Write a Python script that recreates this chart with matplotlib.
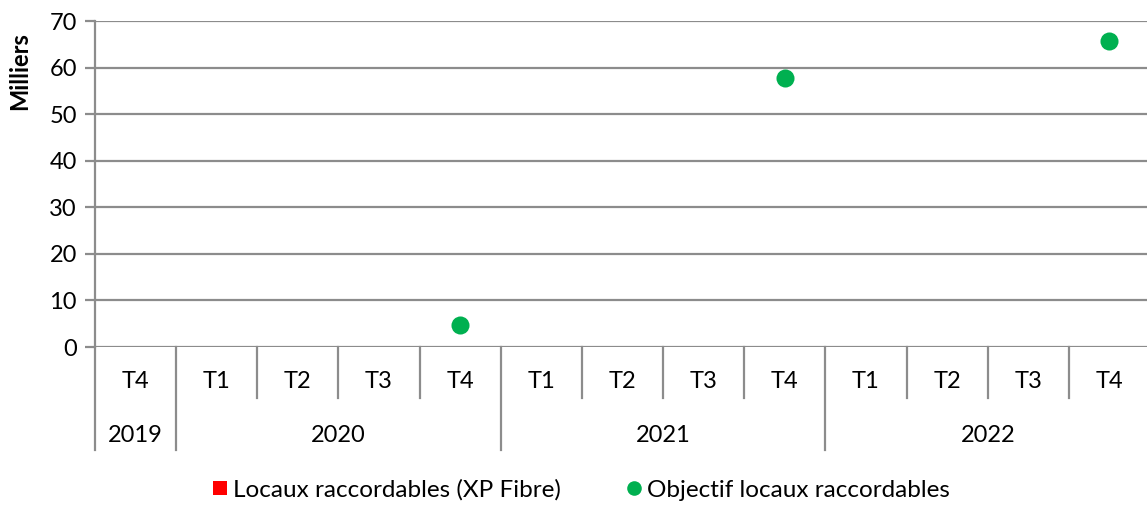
import numpy as np
import matplotlib.pyplot as plt
import matplotlib.transforms as mtransforms

plt.rcParams['font.family'] = ['Lato', 'DejaVu Sans']

quarters = ["T4", "T1", "T2", "T3", "T4", "T1", "T2", "T3", "T4", "T1", "T2", "T3", "T4"]
years = ["2019", "2020", "2021", "2022"]
year_spans = [(0, 0), (1, 4), (5, 8), (9, 12)]  # first/last quarter index for each year
locaux_xp = [np.nan] * 13
objectif = [np.nan, np.nan, np.nan, np.nan, 4.8, np.nan, np.nan, np.nan, 57.8,
            np.nan, np.nan, np.nan, 65.7]

grey = '#8c8c8c'
fs = 17
fig = plt.figure(figsize=(11.47, 5.07), dpi=100)
ax = fig.add_axes([95 / 1147, 1 - 347 / 507, 1055 / 1147, 326 / 507])

x = np.arange(len(quarters))
ax.plot(x, locaux_xp, 's', color='#ff0000', markersize=9.5, markeredgewidth=0,
        label='Locaux raccordables (XP Fibre)')
ax.plot(x, objectif, 'o', color='#00b050', markersize=13, markeredgewidth=0,
        label='Objectif locaux raccordables', zorder=3)

ax.set_xlim(-0.5, len(quarters) - 0.5)
ax.set_ylim(0, 70)
ax.set_yticks(np.arange(0, 71, 10))
ax.yaxis.grid(True, color=grey, linewidth=1.6)
ax.set_axisbelow(True)
ax.tick_params(axis='y', length=7, width=1.6, color=grey, labelsize=fs, pad=6)
ax.set_xticks([])
for s in ['top', 'right', 'bottom']:
    ax.spines[s].set_visible(False)
ax.spines['left'].set_color(grey)
ax.spines['left'].set_linewidth(1.6)
ax.set_ylabel('Milliers', fontsize=fs, fontweight='bold', va='center')
ax.yaxis.set_label_coords(-75 / 1055, 1 - 50 / 326)

# category axis: quarter row and year row
trans = mtransforms.blended_transform_factory(ax.transData, ax.transAxes)
h_q = 51 / 326
h_y = 103 / 326
for i, q in enumerate(quarters):
    ax.text(i, -34 / 326, q, transform=trans, ha='center', va='center', fontsize=fs)
for i in range(len(quarters)):
    b = i - 0.5
    depth = h_q
    if any(b == s - 0.5 for s, _ in year_spans):
        depth = h_y
    ax.plot([b, b], [0, -depth], transform=trans, color=grey, linewidth=1.6,
            clip_on=False)
for yr, (s, e) in zip(years, year_spans):
    ax.text((s + e) / 2, -88 / 326, yr, transform=trans, ha='center', va='center',
            fontsize=fs)

leg = fig.legend(loc='center', ncol=2, frameon=False, fontsize=17.5,
                 bbox_to_anchor=(580 / 1147, 1 - 490 / 507), handletextpad=0.15,
                 columnspacing=2.6, handlelength=0.8)
leg.legend_handles[1].set_markersize(10.5)

fig.savefig('out.png', dpi=100)
